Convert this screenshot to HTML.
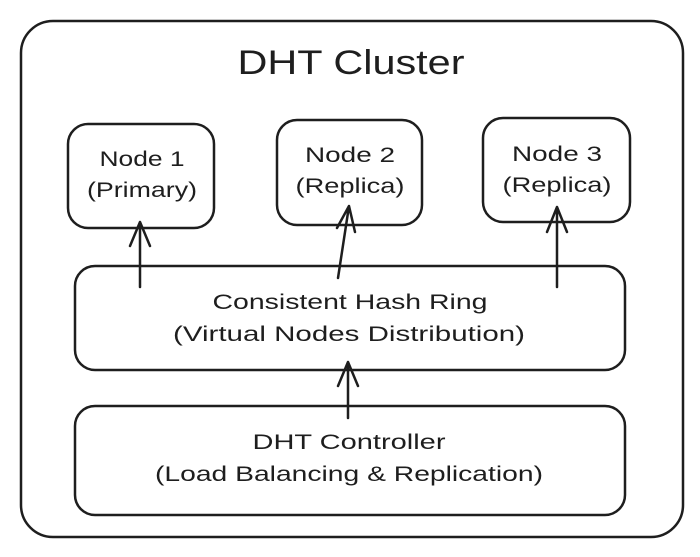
<!DOCTYPE html>
<html><head><style>
html,body{margin:0;padding:0;background:#fff;width:700px;height:557px;overflow:hidden}
svg text{font-family:"Liberation Sans",sans-serif;fill:#1e1e1e;text-anchor:middle}
</style></head><body>
<svg width="700" height="557" viewBox="0 0 700 557" xmlns="http://www.w3.org/2000/svg">
<g fill="none" stroke="#1e1e1e" stroke-width="2.5" stroke-linecap="round" stroke-linejoin="round">
<rect x="21" y="21" width="662" height="516" rx="32"/>
<rect x="68" y="124" width="146" height="104" rx="20"/>
<rect x="277" y="120" width="145" height="105" rx="20"/>
<rect x="483" y="118" width="147" height="104" rx="20"/>
<rect x="75" y="266" width="550" height="104" rx="20"/>
<rect x="75" y="406" width="550" height="109" rx="20"/>
<path d="M140 287 L140 222 M130 246 L140 222 L150 246"/>
<path d="M338 278 L349 206 M337 228 L349 206 L355 232"/>
<path d="M557 287 L557 207 M547 232 L557 207 L567 232"/>
<path d="M348 418 L348 362 M338 386 L348 362 L358 386"/>
</g>
<g lengthAdjust="spacingAndGlyphs">
<text x="351" y="74" font-size="34" textLength="227" lengthAdjust="spacingAndGlyphs">DHT Cluster</text>
<text x="142" y="166" font-size="21" textLength="85" lengthAdjust="spacingAndGlyphs">Node 1</text>
<text x="142" y="197" font-size="21" textLength="110" lengthAdjust="spacingAndGlyphs">(Primary)</text>
<text x="350" y="162" font-size="21" textLength="90" lengthAdjust="spacingAndGlyphs">Node 2</text>
<text x="350" y="193" font-size="21" textLength="109" lengthAdjust="spacingAndGlyphs">(Replica)</text>
<text x="557" y="161" font-size="21" textLength="90" lengthAdjust="spacingAndGlyphs">Node 3</text>
<text x="557" y="192" font-size="21" textLength="109" lengthAdjust="spacingAndGlyphs">(Replica)</text>
<text x="350" y="309" font-size="21" textLength="275" lengthAdjust="spacingAndGlyphs">Consistent Hash Ring</text>
<text x="349" y="341" font-size="21" textLength="352" lengthAdjust="spacingAndGlyphs">(Virtual Nodes Distribution)</text>
<text x="349" y="449" font-size="21" textLength="193" lengthAdjust="spacingAndGlyphs">DHT Controller</text>
<text x="349" y="481" font-size="21" textLength="388" lengthAdjust="spacingAndGlyphs">(Load Balancing &amp; Replication)</text>
</g>
</svg>
</body></html>
